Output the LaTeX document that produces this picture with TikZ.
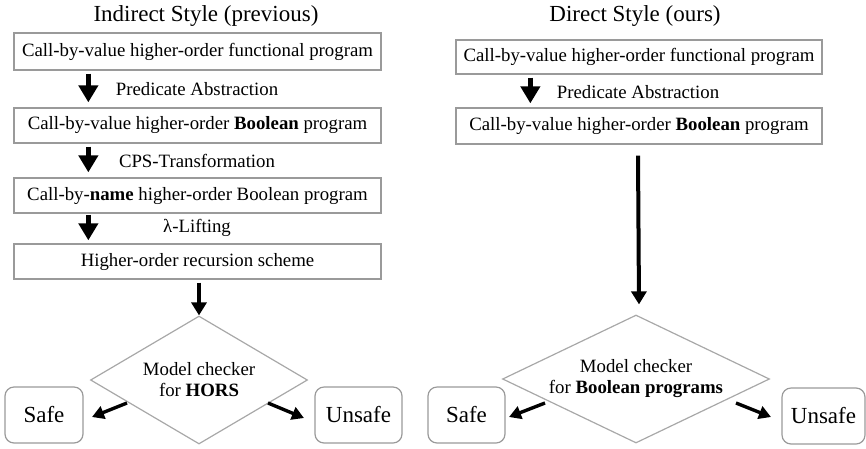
\documentclass[tikz,border=0pt]{standalone}
\usepackage{fontspec}
\setmainfont{Liberation Serif}
\usetikzlibrary{arrows.meta,shapes.geometric,calc}
\definecolor{boxgray}{HTML}{9A9A9A}
\definecolor{diagray}{HTML}{A8A8A8}
\begin{document}
\begin{tikzpicture}[x=1pt,y=-1pt,
  txt/.style={font=\fontsize{18.8}{21}\selectfont, text=black},
  box/.style={txt, draw=boxgray, line width=1.3pt, inner sep=0pt},
  lbl/.style={txt, inner sep=0pt},
  title/.style={font=\fontsize{23}{26}\selectfont, inner sep=0pt},
  dia/.style={txt, diamond, draw=diagray, line width=1.2pt, inner sep=0pt, aspect=2, align=center},
  res/.style={font=\fontsize{23}{26}\selectfont, draw=boxgray, line width=1.2pt, rounded corners=9pt, inner sep=0pt, minimum height=56pt},
  bigarrow/.style={line width=4.5pt, -{Triangle[length=17pt,width=19pt]}},
  longarrow/.style={line width=4pt, -{Triangle[length=13pt,width=15pt]}},
  smallarrow/.style={line width=3.4pt, -{Triangle[length=12pt,width=13pt]}}
]
\useasboundingbox (0,0) rectangle (866,448);

% ---- left column ----
\node[title] (t1) at (206,16) {Indirect Style (previous)};
\node[box, minimum width=367pt, minimum height=37pt] (b1) at (197.5,51.5) {Call-by-value higher-order functional program};
\node[box, minimum width=367pt, minimum height=35pt] (b2) at (197.5,125.5) {Call-by-value higher-order \textbf{Boolean} program};
\node[box, minimum width=367pt, minimum height=35pt] (b3) at (197.5,195.5) {Call-by-\textbf{name} higher-order Boolean program};
\node[box, minimum width=367pt, minimum height=35pt] (b4) at (197.5,261.5) {Higher-order recursion scheme};
\node[lbl] (l1) at (197,89) {Predicate Abstraction};
\node[lbl] (l2) at (197,161) {CPS-Transformation};
\node[lbl] (l3) at (197,228) {λ-Lifting};
\node[dia, minimum width=217pt, minimum height=128pt] (d1) at (199,380) {Model checker\\for \textbf{HORS}};
\node[res, minimum width=78pt] (s1) at (44,415) {Safe};
\node[res, minimum width=87pt] (u1) at (358.5,415) {Unsafe};

\draw[bigarrow] ([xshift=75pt,yshift=-3pt]b1.south west) -- ([xshift=75pt,yshift=5pt]b2.north west);
\draw[bigarrow] ([xshift=75pt,yshift=-3pt]b2.south west) -- ([xshift=75pt,yshift=5pt]b3.north west);
\draw[bigarrow] ([xshift=75pt,yshift=-1pt]b3.south west) -- ([xshift=75pt,yshift=3pt]b4.north west);
\draw[longarrow] ([yshift=-3pt]b4.south -| d1.north) -- (d1.north);

\coordinate (s1a) at (127,403); \coordinate (s1b) at (92,417);
\coordinate (u1a) at (268,403); \coordinate (u1b) at (304,418);
\draw[smallarrow] (s1a) -- (s1b);
\draw[smallarrow] (u1a) -- (u1b);

% ---- right column ----
\node[title] (t2) at (635,16) {Direct Style (ours)};
\node[box, minimum width=366pt, minimum height=34pt] (r1) at (639,57) {Call-by-value higher-order functional program};
\node[box, minimum width=366pt, minimum height=36pt] (r2) at (639,126) {Call-by-value higher-order \textbf{Boolean} program};
\node[lbl] (l4) at (638,92) {Predicate Abstraction};
\node[dia, minimum width=267pt, minimum height=128pt] (d2) at (636,379) {Model checker\\for \textbf{Boolean programs}};
\node[res, minimum width=77pt] (s2) at (466.5,415) {Safe};
\node[res, minimum width=83pt] (u2) at (823.5,416) {Unsafe};

\draw[bigarrow] ([xshift=75pt,yshift=-3pt]r1.south west) -- ([xshift=75pt,yshift=4pt]r2.north west);
\draw[longarrow] ([xshift=-1pt,yshift=-11pt]r2.south) -- ([yshift=10pt]d2.north -| r2.south);

\coordinate (s2a) at (545,403); \coordinate (s2b) at (509,417);
\coordinate (u2a) at (736,403); \coordinate (u2b) at (771,417);
\draw[smallarrow] (s2a) -- (s2b);
\draw[smallarrow] (u2a) -- (u2b);
\end{tikzpicture}
\end{document}
